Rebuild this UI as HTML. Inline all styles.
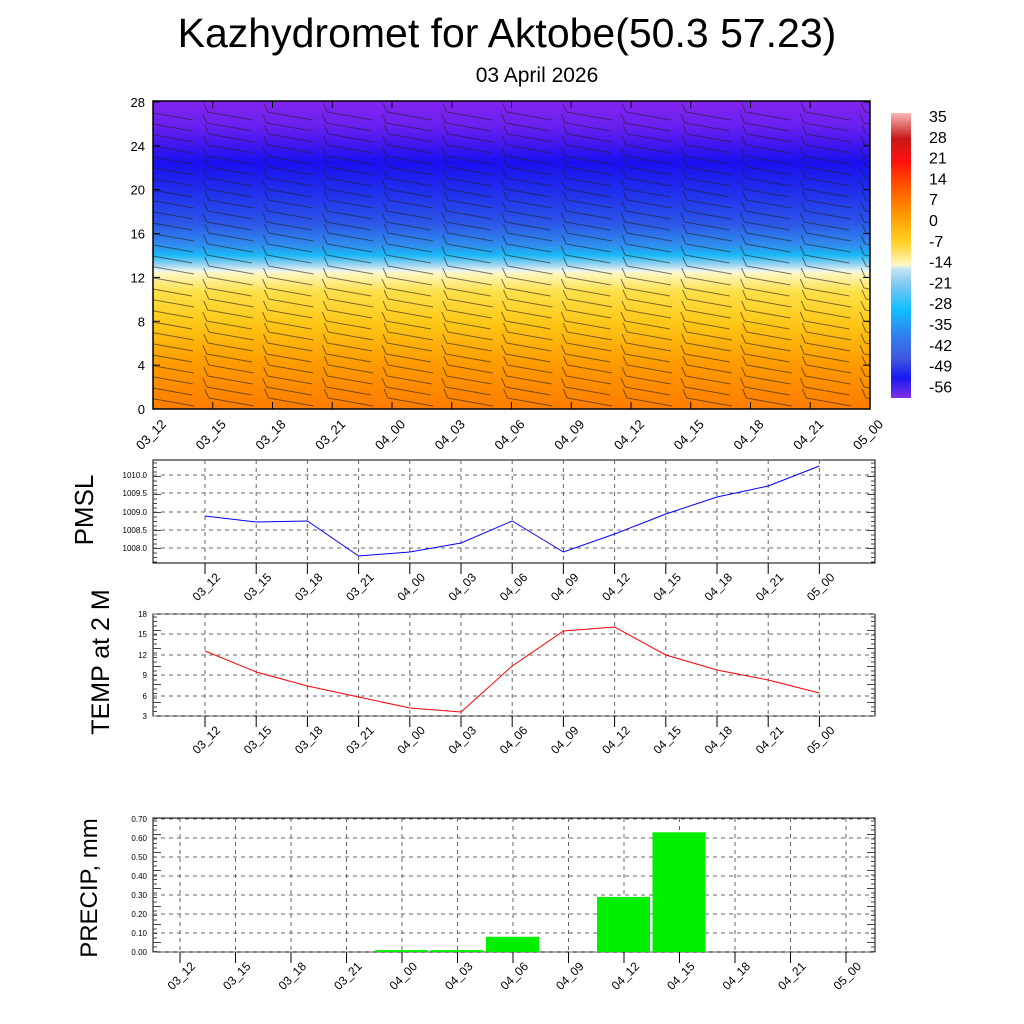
<!DOCTYPE html>
<html><head><meta charset="utf-8"><style>
body{margin:0;background:#fff;}
svg{display:block;font-family:"Liberation Sans",sans-serif;}
</style></head><body>
<svg id="s" width="1024" height="1024" xmlns="http://www.w3.org/2000/svg">
<defs>
<clipPath id="cp"><rect x="153" y="101" width="717" height="308"/></clipPath>
<linearGradient id="g1" x1="0" y1="0" x2="0" y2="1">
<stop offset="0" stop-color="#8424f0"/>
<stop offset="0.08" stop-color="#6a20f0"/>
<stop offset="0.2" stop-color="#1a10f0"/>
<stop offset="0.32" stop-color="#2238ec"/>
<stop offset="0.4" stop-color="#2c58e8"/>
<stop offset="0.47" stop-color="#3090ee"/>
<stop offset="0.5" stop-color="#18b8f6"/>
<stop offset="0.535" stop-color="#a8d8f0"/>
<stop offset="0.55" stop-color="#e8f4f4"/>
<stop offset="0.56" stop-color="#fff6c0"/>
<stop offset="0.62" stop-color="#ffe048"/>
<stop offset="0.72" stop-color="#ffc818"/>
<stop offset="0.85" stop-color="#ff9c00"/>
<stop offset="1" stop-color="#ff7c00"/>
</linearGradient>
<linearGradient id="g2" x1="0" y1="0" x2="0" y2="1">
<stop offset="0" stop-color="#f8b8b8"/>
<stop offset="0.09" stop-color="#c81818"/>
<stop offset="0.17" stop-color="#ff1010"/>
<stop offset="0.25" stop-color="#ff5000"/>
<stop offset="0.35" stop-color="#ff9400"/>
<stop offset="0.45" stop-color="#ffd020"/>
<stop offset="0.535" stop-color="#fff8c8"/>
<stop offset="0.545" stop-color="#c8e6f2"/>
<stop offset="0.6" stop-color="#80c8f0"/>
<stop offset="0.69" stop-color="#10c0ff"/>
<stop offset="0.78" stop-color="#3080f0"/>
<stop offset="0.86" stop-color="#4058e0"/>
<stop offset="0.93" stop-color="#1818f0"/>
<stop offset="1" stop-color="#8030e8"/>
</linearGradient>
</defs>
<text x="507" y="47" font-size="41" text-anchor="middle">Kazhydromet for Aktobe(50.3 57.23)</text>
<text x="537" y="82" font-size="21" text-anchor="middle">03 April 2026</text>
<rect x="153" y="101" width="717" height="308" fill="url(#g1)"/>
<g id="barbs" stroke="#222" stroke-width="1" fill="none" clip-path="url(#cp)"></g>
<rect x="153" y="101" width="717" height="308" fill="none" stroke="#000" stroke-width="1.5"/>
<g id="topax" font-size="13"></g>
<rect x="891" y="113" width="20" height="285" fill="url(#g2)"/>
<g id="cb" font-size="16"></g>
<g id="p1"></g><g id="p2"></g><g id="p3"></g>
<text transform="translate(93,510) rotate(-90)" font-size="26" text-anchor="middle">PMSL</text>
<text transform="translate(109,662) rotate(-90)" font-size="25" text-anchor="middle">TEMP at 2 M</text>
<text transform="translate(97,888) rotate(-90)" font-size="24" text-anchor="middle">PRECIP, mm</text>
</svg>
<script>
(function(){
const NS="http://www.w3.org/2000/svg";
function el(p,t,a,txt){const e=document.createElementNS(NS,t);for(const k in a)e.setAttribute(k,a[k]);if(txt!=null)e.textContent=txt;p.appendChild(e);return e;}
const labs=["03_12","03_15","03_18","03_21","04_00","04_03","04_06","04_09","04_12","04_15","04_18","04_21","05_00"];
const ax=document.getElementById("topax");
for(let v=0;v<=28;v+=4){const y=409-v*307/28;el(ax,"text",{x:145,y:y+5,"text-anchor":"end"},String(v));el(ax,"line",{x1:153,x2:160,y1:y,y2:y,stroke:"#000"});el(ax,"line",{x1:863,x2:870,y1:y,y2:y,stroke:"#000"});}
for(let i=0;i<13;i++){const x=153+i*59.75;el(ax,"text",{x:0,y:0,transform:"translate("+(x+14)+",425) rotate(-45)","text-anchor":"end","font-size":13},labs[i]);el(ax,"line",{x1:x,x2:x,y1:409,y2:402,stroke:"#000"});el(ax,"line",{x1:x,x2:x,y1:101,y2:108,stroke:"#000"});}
const b=document.getElementById("barbs");
for(let i=0;i<13;i++){const x0=153+i*59.75;for(let y=112;y<405;y+=11){const xs=x0-6+(y%3);el(b,"path",{d:"M"+xs+" "+y+" l45 8 M"+xs+" "+y+" l-4 -9","stroke-opacity":"0.6"});}}
const cb=document.getElementById("cb");
[35,28,21,14,7,0,-7,-14,-21,-28,-35,-42,-49,-56].forEach(function(v,i){el(cb,"text",{x:929,y:122+i*20.8},String(v));});
function panel(id,x0,x1,y0,y1,ticksX,yt,fs){
 const g=document.getElementById(id);
 el(g,"rect",{x:x0,y:y0,width:x1-x0,height:y1-y0,fill:"none",stroke:"#000"});
 ticksX.forEach(function(x,i){el(g,"line",{x1:x,x2:x,y1:y0,y2:y1,stroke:"#666","stroke-dasharray":"4 4"});el(g,"line",{x1:x,x2:x,y1:y1,y2:y1+11,stroke:"#000"});
  el(g,"text",{transform:"translate("+(x+16)+","+(y1+15)+") rotate(-45)","text-anchor":"end","font-size":12},labs[i]);});
 yt.forEach(function(p){el(g,"line",{x1:x0,x2:x1,y1:p[0],y2:p[0],stroke:"#666","stroke-dasharray":"4 4"});el(g,"text",{x:x0-6,y:p[0]+3,"text-anchor":"end","font-size":fs},p[1]);});
 for(let y=y0+3;y<y1;y+=4.5){const w=((Math.round((y-y0)/4.5))%4==0)?8:4;el(g,"line",{x1:x0,x2:x0+w,y1:y,y2:y,stroke:"#444"});el(g,"line",{x1:x1,x2:x1-w,y1:y,y2:y,stroke:"#444"});}
 return g;}
const tx1=labs.map(function(_,i){return 205+i*51.2;});
let g=panel("p1",153,875,460,563,tx1,[[475,"1010.0"],[493,"1009.5"],[512,"1009.0"],[530,"1008.5"],[548,"1008.0"]],8);
el(g,"polyline",{points:[516,522,521,556,552,543,521,552,534,514,497,486,466].map(function(y,i){return tx1[i]+","+y;}).join(" "),fill:"none",stroke:"#00f"});
g=panel("p2",153,875,614,716,tx1,[[614,"18"],[634,"15"],[655,"12"],[675,"9"],[696,"6"],[716,"3"]],8);
el(g,"polyline",{points:[651,672,686,697,708,712,666,631,627,655,670,680,693].map(function(y,i){return tx1[i]+","+y;}).join(" "),fill:"none",stroke:"#f00"});
const tx3=labs.map(function(_,i){return 180+i*55.5;});
g=panel("p3",153,875,818,952,tx3,[0,.1,.2,.3,.4,.5,.6,.7].map(function(v){return [952-v*190,v.toFixed(2)];}),8);
[[4,.01],[5,.01],[6,.08],[8,.29],[9,.63]].forEach(function(p){const x=tx3[p[0]],v=p[1];el(g,"rect",{x:x-27,y:952-v*190,width:53,height:v*190,fill:"#00f000"});});
})();
</script>
</body></html>
